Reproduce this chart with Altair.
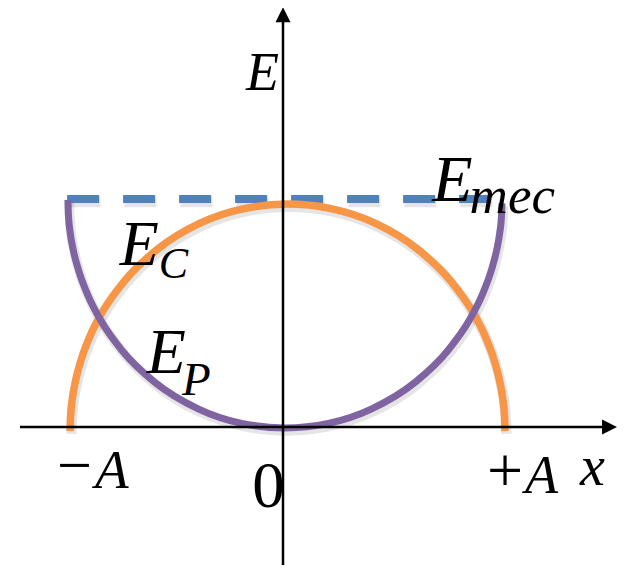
import altair as alt
import pandas as pd

# ---- data (x in units of A, y in units of E) ----
# kinetic energy E_C (orange)
ec_x = [-0.981, -0.979, -0.971, -0.956, -0.931, -0.891, -0.831, -0.731, -0.580, -0.380, -0.179, 0.021,
        0.221, 0.422, 0.622, 0.773, 0.873, 0.933, 0.973, 0.998, 1.013, 1.021, 1.023]
ec_y = [-0.018, 0.045, 0.123, 0.204, 0.294, 0.397, 0.509, 0.643, 0.782, 0.899, 0.962, 0.982,
        0.962, 0.899, 0.782, 0.643, 0.509, 0.397, 0.294, 0.204, 0.123, 0.045, -0.018]
# potential energy E_P (purple)
ep_x = [-0.991, -0.989, -0.981, -0.966, -0.941, -0.901, -0.841, -0.741, -0.591, -0.391, -0.191, 0.009,
        0.209, 0.409, 0.609, 0.759, 0.859, 0.919, 0.959, 0.984, 0.999, 1.007, 1.009]
ep_y = [1.000, 0.937, 0.858, 0.777, 0.687, 0.584, 0.471, 0.336, 0.197, 0.080, 0.016, -0.004,
        0.016, 0.080, 0.197, 0.336, 0.471, 0.584, 0.687, 0.777, 0.856, 0.930, 0.985]
# mechanical energy E_mec (dashed)
emec_x = [-0.995, 0.959]
emec_y = [1.004, 1.004]

# axes extents
xaxis_x = [-1.212, 1.484]
yaxis_y = [-0.62, 1.79]
arrow_x_tip = 1.505   # arrow head centre on x axis
arrow_y_tip = 1.816   # arrow head centre on y axis

# labels
it_text = ["E", "E", "C", "E", "P", "E", "mec", "A", "A", "x"]
it_x = [-0.170, -0.752, -0.573, -0.628, -0.465, 0.688, 0.860, -0.866, 1.115, 1.369]
it_y = [1.485, 0.714, 0.656, 0.238, 0.141, 0.996, 0.943, -0.269, -0.291, -0.256]
it_size = [54, 64, 44, 64, 47, 66, 53, 55, 54, 56]

up_text = ["\u2212", "+", "0"]
up_x = [-1.042, 0.940, -0.067]
up_y = [-0.260, -0.288, -0.352]
up_size = [62, 64, 65]
up_align = ["left", "left", "center"]

W, H = 609, 557
xs = alt.Scale(domain=[-1.2673, 1.5392], nice=False, zero=False)
ys = alt.Scale(domain=[-0.6079, 1.8458], nice=False, zero=False)
FONT = "Liberation Serif"

ec = pd.DataFrame({"x": ec_x, "y": ec_y, "o": range(len(ec_x))})
ep = pd.DataFrame({"x": ep_x, "y": ep_y, "o": range(len(ep_x))})
em = pd.DataFrame({"x": emec_x, "y": emec_y})

X = alt.X("x:Q", scale=xs, axis=None)
Y = alt.Y("y:Q", scale=ys, axis=None)
XS = alt.X("xs:Q", scale=xs, axis=None)
YS = alt.Y("ys:Q", scale=ys, axis=None)


def shadow(df, width, dash=None):
    kw = dict(color="#000000", opacity=0.10, strokeWidth=width + 3, strokeCap="butt")
    if dash:
        kw["strokeDash"] = dash
    else:
        kw["interpolate"] = "monotone"
    return alt.Chart(df).transform_calculate(
        xs="datum.x + 0.006", ys="datum.y - 0.012"
    ).mark_line(**kw).encode(XS, YS, order="o:Q") if "o" in df else alt.Chart(df).transform_calculate(
        xs="datum.x + 0.006", ys="datum.y - 0.012"
    ).mark_line(**kw).encode(XS, YS)


dash = alt.Chart(em).mark_line(color="#4F81BD", strokeWidth=8, strokeDash=[32, 24],
                               strokeCap="butt").encode(X, Y)
orange = alt.Chart(ec).mark_line(color="#F79646", strokeWidth=7.5, interpolate="monotone",
                                 strokeCap="butt").encode(X, Y, order="o:Q")
purple = alt.Chart(ep).mark_line(color="#8064A2", strokeWidth=7, interpolate="monotone",
                                 strokeCap="butt").encode(X, Y, order="o:Q")

xa = alt.Chart(pd.DataFrame({"x": [xaxis_x[0]], "x2": [xaxis_x[1]], "y": [0.0]})).mark_rule(
    color="black", strokeWidth=2.5).encode(X, alt.X2("x2"), Y)
ya = alt.Chart(pd.DataFrame({"x": [0.0], "y": [yaxis_y[0]], "y2": [yaxis_y[1]]})).mark_rule(
    color="black", strokeWidth=2.5).encode(X, Y, alt.Y2("y2"))

arr_r = alt.Chart(pd.DataFrame({"x": [arrow_x_tip], "y": [0.0]})).mark_point(
    shape="M1,0L-1,-1L-1,1Z", filled=True, color="black", opacity=1, size=225, strokeWidth=0
).encode(X, Y)
arr_u = alt.Chart(pd.DataFrame({"x": [0.0], "y": [arrow_y_tip]})).mark_point(
    shape="M0,-1L1,1L-1,1Z", filled=True, color="black", opacity=1, size=225, strokeWidth=0
).encode(X, Y)

itd = pd.DataFrame({"t": it_text, "x": it_x, "y": it_y, "s": it_size})
upd = pd.DataFrame({"t": up_text, "x": up_x, "y": up_y, "s": up_size, "a": up_align})

it_layer = alt.Chart(itd).mark_text(font=FONT, fontStyle="italic", align="left",
                                    baseline="alphabetic", color="black").encode(
    X, Y, text="t:N", size=alt.Size("s:Q", scale=None, legend=None))
up_left = alt.Chart(upd[upd.a == "left"]).mark_text(font=FONT, align="left",
                                                    baseline="alphabetic", color="black").encode(
    X, Y, text="t:N", size=alt.Size("s:Q", scale=None, legend=None))
up_center = alt.Chart(upd[upd.a == "center"]).mark_text(font=FONT, align="center",
                                                        baseline="alphabetic", color="black").encode(
    X, Y, text="t:N", size=alt.Size("s:Q", scale=None, legend=None))

chart = alt.layer(
    shadow(em, 8, [32, 24]), shadow(ec, 7.5), shadow(ep, 7),
    dash, orange, purple, xa, ya, arr_r, arr_u, it_layer, up_left, up_center
).properties(
    width=W, height=H, padding=0, autosize=alt.AutoSizeParams(type="none"), background="white"
).configure_view(stroke=None)

chart.save("out.html", embed_options={"renderer": "svg", "actions": False})
